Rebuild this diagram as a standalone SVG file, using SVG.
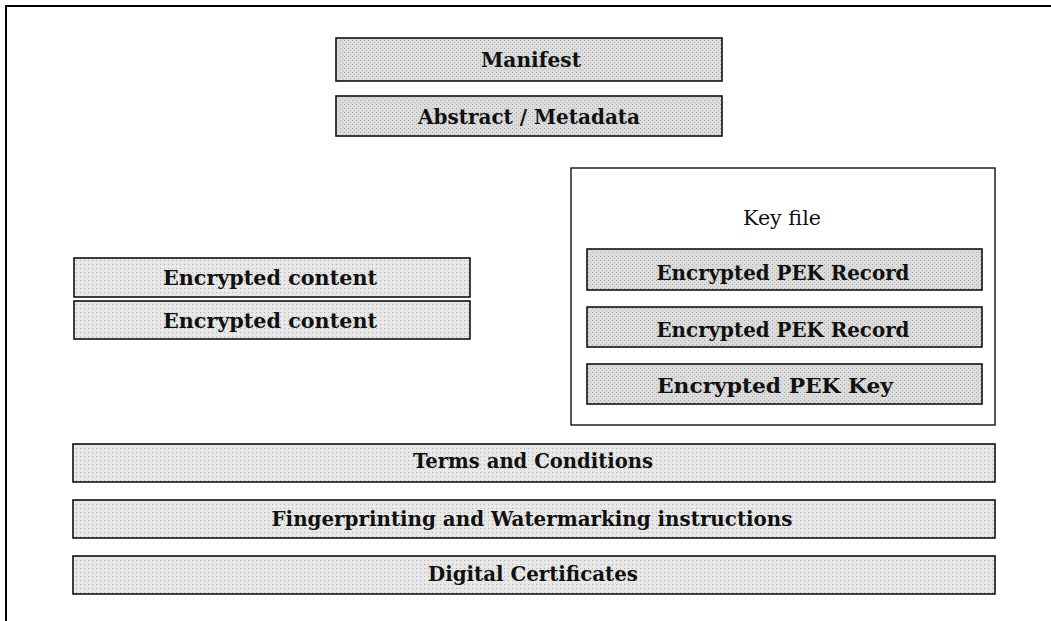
<svg xmlns="http://www.w3.org/2000/svg" width="1051" height="621" viewBox="0 0 1051 621">
<defs>
<pattern id="dots" width="4" height="4" patternUnits="userSpaceOnUse">
<rect width="4" height="4" fill="#dcdcdc"/>
<rect x="0" y="0" width="1" height="1" fill="#a8a8a8"/>
<rect x="2" y="2" width="1" height="1" fill="#bdbdbd"/>
</pattern>
<pattern id="dotsL" width="4" height="4" patternUnits="userSpaceOnUse">
<rect width="4" height="4" fill="#e6e6e6"/>
<rect x="0" y="0" width="1" height="1" fill="#b4b4b4"/>
<rect x="2" y="2" width="1" height="1" fill="#f4f4f4"/>
</pattern>
</defs>
<style>
.frame{fill:none;stroke:#000;stroke-width:2}
.box{fill:url(#dots);stroke:#111;stroke-width:1.6}
.boxL{fill:url(#dotsL);stroke:#111;stroke-width:1.6}
.outer{fill:#fff;stroke:#111;stroke-width:1.4}
.t{font-family:"DejaVu Serif","Liberation Serif",serif;font-weight:bold;font-size:19.5px;fill:#111;text-anchor:middle}
.tr{font-family:"DejaVu Serif","Liberation Serif",serif;font-size:19.5px;fill:#111;text-anchor:middle}
</style>
<rect width="1051" height="621" fill="#fff"/>
<g id="frame">
<path class="frame" d="M6,621 V6 H1051"/>
</g>
<g id="manifest">
<rect class="box" x="336" y="38" width="386" height="43"/>
<text class="t" x="531" y="67" textLength="100" lengthAdjust="spacingAndGlyphs">Manifest</text>
</g>
<g id="abstract">
<rect class="box" x="336" y="96" width="386" height="40"/>
<text class="t" x="529" y="124" textLength="222" lengthAdjust="spacingAndGlyphs">Abstract / Metadata</text>
</g>
<g id="keyfile">
<rect class="outer" x="571" y="168" width="424" height="257"/>
<text class="tr" x="782" y="225" textLength="78" lengthAdjust="spacingAndGlyphs">Key file</text>
</g>
<g id="pek-record-1">
<rect class="box" x="587" y="249" width="395" height="41"/>
<text class="t" x="783" y="280" textLength="253" lengthAdjust="spacingAndGlyphs">Encrypted PEK Record</text>
</g>
<g id="pek-record-2">
<rect class="box" x="587" y="307" width="395" height="40"/>
<text class="t" x="783" y="337" textLength="253" lengthAdjust="spacingAndGlyphs">Encrypted PEK Record</text>
</g>
<g id="pek-key">
<rect class="box" x="587" y="364" width="395" height="40"/>
<text class="t" x="775" y="393" textLength="236" lengthAdjust="spacingAndGlyphs">Encrypted PEK Key</text>
</g>
<g id="content-1">
<rect class="boxL" x="74" y="258" width="396" height="39"/>
<text class="t" x="270" y="285" textLength="214" lengthAdjust="spacingAndGlyphs">Encrypted content</text>
</g>
<g id="content-2">
<rect class="boxL" x="74" y="301" width="396" height="38"/>
<text class="t" x="270" y="328" textLength="214" lengthAdjust="spacingAndGlyphs">Encrypted content</text>
</g>
<g id="terms">
<rect class="boxL" x="73" y="444" width="922" height="38"/>
<text class="t" x="533" y="468" textLength="240" lengthAdjust="spacingAndGlyphs">Terms and Conditions</text>
</g>
<g id="fingerprinting">
<rect class="boxL" x="73" y="500" width="922" height="38"/>
<text class="t" x="532" y="526" textLength="521" lengthAdjust="spacingAndGlyphs">Fingerprinting and Watermarking instructions</text>
</g>
<g id="certificates">
<rect class="boxL" x="73" y="556" width="922" height="38"/>
<text class="t" x="533" y="581" textLength="210" lengthAdjust="spacingAndGlyphs">Digital Certificates</text>
</g>
<g id="connectors"></g>
</svg>
